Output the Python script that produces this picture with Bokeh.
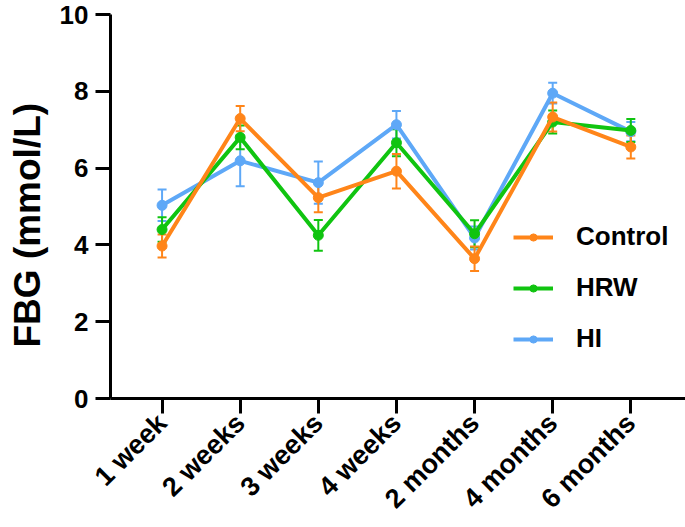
import math
from bokeh.plotting import figure
from bokeh.models import (ColumnDataSource, Range1d, FixedTicker, Whisker, TeeHead,
                          Legend, LegendItem, Title)
from bokeh.embed import file_html
from bokeh.resources import INLINE

# ---------------- data ----------------
categories = ["1 week", "2 weeks", "3 weeks", "4 weeks", "2 months", "4 months", "6 months"]
control_mean = [3.97, 7.29, 5.23, 5.92, 3.64, 7.33, 6.55]
control_sem = [0.30, 0.33, 0.38, 0.45, 0.32, 0.38, 0.30]
hrw_mean = [4.40, 6.80, 4.25, 6.66, 4.29, 7.20, 6.98]
hrw_sem = [0.32, 0.31, 0.40, 0.35, 0.35, 0.30, 0.30]
hi_mean = [5.03, 6.19, 5.62, 7.13, 4.18, 7.95, 6.95]
hi_sem = [0.41, 0.66, 0.55, 0.36, 0.30, 0.27, 0.25]
y_ticks = [0, 2, 4, 6, 8, 10]
y_title = "FBG (mmol/L)"

series = [
    ("HI", hi_mean, hi_sem, "#5EA8F7"),
    ("HRW", hrw_mean, hrw_sem, "#10C410"),
    ("Control", control_mean, control_sem, "#FF8519"),
]

FONT = "Liberation Sans"

p = figure(width=685, height=527, output_backend="svg", toolbar_location=None,
           x_range=Range1d(-0.66, 6.70), y_range=Range1d(0, 10),
           min_border_left=104, min_border_right=0, min_border_top=14,
           min_border_bottom=129)
p.outline_line_color = None
p.grid.visible = False
p.background_fill_color = "white"
p.border_fill_color = "white"

xpos = list(range(len(categories)))

legend_items = {}
for name, mean, sem, color in series:
    src = ColumnDataSource(dict(
        x=xpos, y=mean,
        lo=[m - s for m, s in zip(mean, sem)],
        hi=[m + s for m, s in zip(mean, sem)],
    ))
    w = Whisker(source=src, base="x", upper="hi", lower="lo",
                line_color=color, line_width=2,
                upper_head=TeeHead(size=9, line_color=color, line_width=2),
                lower_head=TeeHead(size=9, line_color=color, line_width=2))
    p.add_layout(w)
    lr = p.line("x", "y", source=src, line_color=color, line_width=4)
    sr = p.scatter("x", "y", source=src, size=10, fill_color=color, line_color=color)
    legend_items[name] = [lr, sr]

legend = Legend(items=[LegendItem(label=n, renderers=legend_items[n])
                       for n in ["Control", "HRW", "HI"]],
                location=(403, 44), orientation="vertical",
                border_line_color=None, background_fill_alpha=0,
                padding=0, margin=0, spacing=20,
                glyph_width=40, glyph_height=18, label_height=30,
                label_standoff=23,
                label_text_font=FONT, label_text_font_style="bold",
                label_text_font_size="26px", label_text_color="black")
p.add_layout(legend, "center")

# axes
for ax in (p.xaxis[0], p.yaxis[0]):
    ax.axis_line_width = 3
    ax.axis_line_color = "black"
    ax.major_tick_line_width = 3
    ax.major_tick_line_color = "black"
    ax.major_tick_out = 15
    ax.major_tick_in = 0
    ax.minor_tick_line_color = None
    ax.major_label_text_font = FONT
    ax.major_label_text_font_style = "bold"
    ax.major_label_text_color = "black"

p.yaxis.ticker = FixedTicker(ticks=y_ticks)
p.yaxis.major_label_text_font_size = "26px"
p.yaxis.major_label_standoff = 7

p.xaxis.ticker = FixedTicker(ticks=xpos)
p.xaxis.major_label_overrides = {i: c for i, c in enumerate(categories)}
p.xaxis.major_label_orientation = math.pi / 4
p.xaxis.major_label_text_font_size = "27px"
p.xaxis.major_label_standoff = 5

title = Title(text=y_title, align="left", offset=51, vertical_align="top",
              standoff=13, text_font=FONT, text_font_style="bold",
              text_font_size="37px", text_color="black")
p.add_layout(title, "left")

open("out.html", "w").write(file_html(p, INLINE))
